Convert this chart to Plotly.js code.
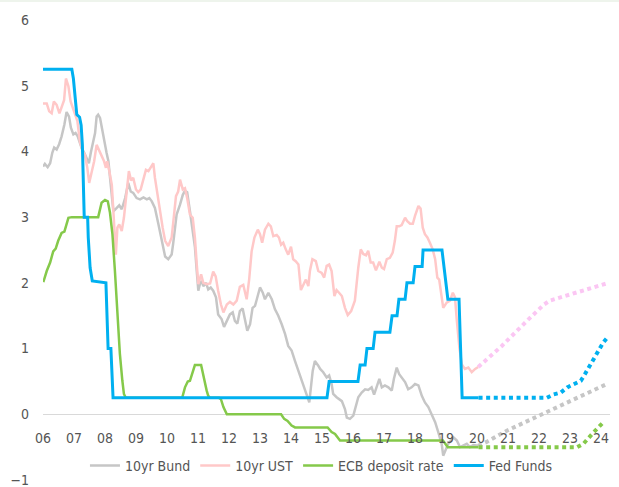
<!DOCTYPE html>
<html>
<head>
<meta charset="utf-8">
<script src="https://cdn.plot.ly/plotly-3.0.1.min.js"></script>
<style>html,body{margin:0;padding:0;background:#fff;}#chart{width:619px;height:487px;}</style>
</head>
<body>
<div id="chart"></div>
<script>
// ---- Data (x = decimal year, y = %) ----
const years = [2006,2007,2008,2009,2010,2011,2012,2013,2014,2015,2016,2017,2018,2019,2020,2021,2022,2023,2024];
const yearLabels = ['06','07','08','09','10','11','12','13','14','15','16','17','18','19','20','21','22','23','24'];
const yTicks = [-1,0,1,2,3,4,5,6];

const seriesNames = ['10yr Bund','10yr UST','ECB deposit rate','Fed Funds'];

const bund = [[2006.0,3.77],[2006.06,3.81],[2006.15,3.76],[2006.23,3.82],[2006.30,3.98],[2006.36,4.06],[2006.44,4.03],[2006.52,4.11],[2006.60,4.23],[2006.69,4.41],[2006.76,4.60],[2006.84,4.53],[2006.90,4.36],[2006.98,4.26],[2007.05,4.28],[2007.12,4.23],[2007.19,4.13],[2007.25,4.05],[2007.33,3.98],[2007.41,3.90],[2007.48,3.82],[2007.55,4.0],[2007.62,4.13],[2007.68,4.28],[2007.73,4.53],[2007.78,4.56],[2007.84,4.51],[2007.89,4.38],[2007.95,4.20],[2008.0,4.13],[2008.05,3.98],[2008.11,3.85],[2008.16,3.60],[2008.22,3.29],[2008.27,3.09],[2008.38,3.14],[2008.46,3.18],[2008.54,3.12],[2008.65,3.29],[2008.75,3.52],[2008.83,3.39],[2008.91,3.37],[2009.02,3.29],[2009.13,3.27],[2009.24,3.30],[2009.35,3.27],[2009.43,3.29],[2009.51,3.24],[2009.61,3.14],[2009.72,2.90],[2009.83,2.65],[2009.94,2.40],[2010.04,2.36],[2010.15,2.43],[2010.20,2.60],[2010.31,3.04],[2010.42,3.19],[2010.51,3.34],[2010.58,3.40],[2010.65,3.38],[2010.74,3.09],[2010.83,2.79],[2010.90,2.55],[2010.96,2.18],[2011.01,1.88],[2011.06,1.98],[2011.12,2.03],[2011.17,1.95],[2011.26,2.0],[2011.33,1.90],[2011.41,1.93],[2011.49,1.88],[2011.58,1.78],[2011.65,1.52],[2011.76,1.45],[2011.84,1.33],[2011.93,1.42],[2012.03,1.52],[2012.12,1.55],[2012.19,1.42],[2012.27,1.38],[2012.35,1.57],[2012.44,1.61],[2012.52,1.45],[2012.59,1.27],[2012.68,1.37],[2012.76,1.62],[2012.84,1.65],[2012.91,1.78],[2013.0,1.93],[2013.09,1.85],[2013.16,1.75],[2013.27,1.85],[2013.38,1.75],[2013.48,1.60],[2013.59,1.50],[2013.70,1.37],[2013.81,1.22],[2013.91,1.04],[2014.02,0.97],[2014.13,0.81],[2014.24,0.66],[2014.35,0.51],[2014.45,0.38],[2014.59,0.18],[2014.70,0.66],[2014.77,0.81],[2014.88,0.74],[2014.94,0.69],[2015.04,0.64],[2015.15,0.56],[2015.23,0.59],[2015.31,0.46],[2015.36,0.31],[2015.47,0.26],[2015.64,0.20],[2015.74,0.08],[2015.80,-0.05],[2015.90,-0.07],[2016.01,-0.02],[2016.06,0.06],[2016.17,0.26],[2016.28,0.33],[2016.39,0.38],[2016.49,0.37],[2016.60,0.41],[2016.68,0.30],[2016.76,0.41],[2016.85,0.54],[2016.93,0.41],[2017.03,0.44],[2017.14,0.41],[2017.25,0.36],[2017.32,0.54],[2017.41,0.71],[2017.49,0.61],[2017.57,0.56],[2017.68,0.49],[2017.78,0.38],[2017.89,0.41],[2018.0,0.46],[2018.11,0.44],[2018.22,0.28],[2018.32,0.18],[2018.43,0.11],[2018.54,0.0],[2018.65,-0.12],[2018.75,-0.27],[2018.86,-0.45],[2018.91,-0.63],[2019.07,-0.45],[2019.24,-0.35],[2019.35,-0.40],[2019.45,-0.50],[2019.56,-0.47],[2019.67,-0.45],[2019.77,-0.50],[2019.88,-0.47],[2020.04,-0.48]];

const ust = [[2006.0,4.73],[2006.12,4.73],[2006.20,4.61],[2006.28,4.58],[2006.35,4.76],[2006.44,4.71],[2006.53,4.58],[2006.60,4.68],[2006.68,4.78],[2006.74,5.11],[2006.82,4.99],[2006.89,4.76],[2006.96,4.66],[2007.03,4.58],[2007.11,4.46],[2007.19,4.15],[2007.28,4.0],[2007.35,3.95],[2007.43,3.75],[2007.49,3.52],[2007.57,3.70],[2007.65,3.85],[2007.73,4.10],[2007.82,4.0],[2007.89,3.93],[2007.97,3.85],[2008.03,3.75],[2008.07,3.85],[2008.14,3.70],[2008.22,3.49],[2008.27,3.09],[2008.32,2.58],[2008.35,2.43],[2008.40,2.84],[2008.46,2.89],[2008.54,2.79],[2008.61,2.99],[2008.70,3.39],[2008.77,3.70],[2008.84,3.56],[2008.91,3.60],[2009.0,3.42],[2009.07,3.38],[2009.15,3.42],[2009.24,3.60],[2009.32,3.72],[2009.40,3.70],[2009.47,3.75],[2009.56,3.82],[2009.61,3.60],[2009.69,3.34],[2009.77,3.09],[2009.86,2.84],[2009.94,2.64],[2010.04,2.56],[2010.15,2.69],[2010.23,3.09],[2010.29,3.32],[2010.36,3.39],[2010.42,3.57],[2010.51,3.42],[2010.58,3.44],[2010.65,3.29],[2010.74,3.04],[2010.83,2.99],[2010.90,2.69],[2010.96,2.28],[2011.01,1.98],[2011.10,2.13],[2011.17,2.0],[2011.28,1.98],[2011.39,1.99],[2011.49,2.17],[2011.57,2.10],[2011.65,1.88],[2011.74,1.67],[2011.82,1.55],[2011.93,1.67],[2012.03,1.71],[2012.14,1.67],[2012.25,1.73],[2012.35,1.94],[2012.46,1.97],[2012.57,1.75],[2012.65,2.05],[2012.73,2.48],[2012.82,2.69],[2012.93,2.81],[2013.0,2.74],[2013.07,2.61],[2013.16,2.81],[2013.27,2.90],[2013.35,2.86],[2013.43,2.71],[2013.54,2.73],[2013.61,2.69],[2013.68,2.58],[2013.75,2.61],[2013.83,2.51],[2013.91,2.43],[2014.0,2.55],[2014.07,2.36],[2014.15,2.33],[2014.24,2.28],[2014.32,1.89],[2014.40,1.98],[2014.48,2.05],[2014.56,1.95],[2014.61,2.18],[2014.69,2.36],[2014.80,2.33],[2014.88,2.18],[2014.99,2.15],[2015.07,2.08],[2015.15,2.26],[2015.23,2.28],[2015.31,2.18],[2015.40,1.80],[2015.47,1.89],[2015.55,1.85],[2015.64,1.80],[2015.74,1.62],[2015.83,1.51],[2015.94,1.57],[2016.06,1.73],[2016.17,2.23],[2016.25,2.51],[2016.33,2.44],[2016.42,2.42],[2016.49,2.49],[2016.57,2.31],[2016.65,2.31],[2016.74,2.19],[2016.85,2.32],[2016.93,2.23],[2017.0,2.21],[2017.09,2.36],[2017.19,2.38],[2017.28,2.46],[2017.35,2.64],[2017.41,2.86],[2017.49,2.86],[2017.57,2.88],[2017.68,2.99],[2017.75,2.94],[2017.84,2.90],[2017.93,2.90],[2018.0,3.02],[2018.11,3.17],[2018.18,3.13],[2018.25,2.84],[2018.32,2.74],[2018.40,2.69],[2018.48,2.61],[2018.57,2.51],[2018.65,2.36],[2018.72,2.08],[2018.78,2.05],[2018.91,1.62],[2019.02,1.70],[2019.13,1.73],[2019.22,1.85],[2019.29,1.78],[2019.35,1.42],[2019.43,1.02],[2019.51,0.76],[2019.61,0.69],[2019.72,0.71],[2019.83,0.64],[2019.94,0.69],[2020.04,0.72]];

const ecb = [[2006.01,2.01],[2006.12,2.18],[2006.23,2.31],[2006.33,2.48],[2006.41,2.52],[2006.49,2.64],[2006.60,2.76],[2006.69,2.78],[2006.82,2.99],[2006.93,3.0],[2007.78,3.0],[2007.89,3.22],[2008.0,3.26],[2008.09,3.24],[2008.16,3.07],[2008.24,2.74],[2008.32,2.18],[2008.41,1.42],[2008.48,0.92],[2008.56,0.51],[2008.61,0.31],[2008.67,0.25],[2010.49,0.25],[2010.58,0.41],[2010.67,0.50],[2010.74,0.51],[2010.85,0.70],[2010.90,0.75],[2011.10,0.75],[2011.20,0.51],[2011.28,0.36],[2011.33,0.28],[2011.39,0.25],[2011.68,0.25],[2011.74,0.23],[2011.82,0.11],[2011.93,0.0],[2013.68,0.0],[2013.78,-0.07],[2013.89,-0.10],[2014.02,-0.17],[2014.13,-0.20],[2015.18,-0.20],[2015.31,-0.27],[2015.42,-0.30],[2015.58,-0.40],[2018.90,-0.40],[2019.06,-0.50],[2020.05,-0.50]];

const fed = [[2006.0,5.25],[2006.93,5.25],[2006.98,5.11],[2007.03,4.86],[2007.09,4.56],[2007.18,4.52],[2007.23,4.40],[2007.27,4.10],[2007.31,3.50],[2007.33,3.0],[2007.44,3.0],[2007.46,2.69],[2007.52,2.23],[2007.59,2.03],[2008.03,2.0],[2008.10,1.0],[2008.19,1.0],[2008.26,0.25],[2015.16,0.25],[2015.23,0.50],[2016.16,0.50],[2016.23,0.75],[2016.39,0.75],[2016.45,1.0],[2016.65,1.0],[2016.71,1.25],[2017.19,1.25],[2017.26,1.50],[2017.42,1.50],[2017.48,1.75],[2017.68,1.75],[2017.74,2.0],[2017.94,2.0],[2018.0,2.25],[2018.23,2.25],[2018.26,2.50],[2018.87,2.50],[2019.06,1.75],[2019.42,1.75],[2019.52,0.25],[2020.05,0.25]];

// Forecasts (dotted)
const bundFc = [[2020.04,-0.48],[2020.31,-0.42],[2020.96,-0.25],[2021.60,-0.11],[2022.25,0.03],[2022.91,0.17],[2023.56,0.32],[2024.23,0.47]];
const ustFc = [[2020.04,0.72],[2020.26,0.81],[2020.80,1.04],[2021.65,1.44],[2022.16,1.67],[2022.35,1.73],[2022.84,1.80],[2023.32,1.87],[2023.77,1.94],[2024.24,2.0]];
const ecbFc = [[2020.05,-0.50],[2023.23,-0.50],[2023.43,-0.45],[2023.59,-0.36],[2023.75,-0.28],[2024.10,-0.11]];
const fedFc = [[2020.05,0.25],[2022.25,0.25],[2022.46,0.30],[2022.70,0.33],[2022.91,0.41],[2023.13,0.46],[2023.35,0.51],[2023.48,0.61],[2023.61,0.71],[2023.73,0.80],[2023.86,0.91],[2023.97,1.0],[2024.07,1.09],[2024.24,1.19]];

// ---- Styles ----
const colors = {bund:'#c6c6c6', ust:'#ffc8c8', ecb:'#85c94a', fed:'#00b0f0', ustFc:'#fbc6f3'};
const FONT = '"Liberation Sans Narrow", "DejaVu Sans Condensed", "Arial Narrow", "Roboto Condensed", sans-serif';

function line(data, name, color, width, show) {
  return {x: data.map(d=>d[0]), y: data.map(d=>d[1]), type:'scatter', mode:'lines', name:name,
          line:{color:color, width:width}, showlegend:show, hoverinfo:'skip'};
}
function dotted(data, color) {
  return {x: data.map(d=>d[0]), y: data.map(d=>d[1]), type:'scatter', mode:'lines',
          line:{color:color, width:4, dash:'4px,3.6px'}, showlegend:false, hoverinfo:'skip'};
}

const traces = [
  line(bund, seriesNames[0], colors.bund, 2.5, true),
  line(ust, seriesNames[1], colors.ust, 2.5, true),
  line(ecb, seriesNames[2], colors.ecb, 2.5, true),
  line(fed, seriesNames[3], colors.fed, 3, true),
  dotted(bundFc, colors.bund),
  dotted(ustFc, colors.ustFc),
  dotted(ecbFc, colors.ecb),
  dotted(fedFc, colors.fed)
];

const layout = {
  width:619, height:487,
  margin:{l:43, r:9, t:20, b:6, pad:0},
  paper_bgcolor:'#ffffff', plot_bgcolor:'#ffffff',
  font:{family:FONT, size:14, color:'#555555'},
  xaxis:{range:[2006, 2024.29], tickmode:'array', tickvals:years, ticktext:yearLabels,
         showgrid:false, zeroline:false, showline:false, ticks:'', anchor:'free', position:1/7,
         ticklabelstandoff:14, fixedrange:true},
  yaxis:{range:[-1,6], tickmode:'array', tickvals:yTicks, showgrid:false, zeroline:true,
         zerolinecolor:'#d9d9d9', zerolinewidth:1.5, showline:false, ticks:'', ticklabelstandoff:13,
         ticklabeloverflow:'allow', fixedrange:true},
  legend:{orientation:'h', x:0.074, xanchor:'left', y:0.033, yanchor:'middle',
          bgcolor:'rgba(0,0,0,0)', font:{family:FONT, size:14, color:'#555555'}},
  shapes:[{type:'rect', xref:'paper', yref:'paper', x0:-0.1, x1:1.1, y0:1.039, y1:1.05,
           fillcolor:'#eef4ec', line:{width:0}}],
  showlegend:true
};

Plotly.newPlot('chart', traces, layout, {displayModeBar:false, staticPlot:true});
</script>
</body>
</html>
